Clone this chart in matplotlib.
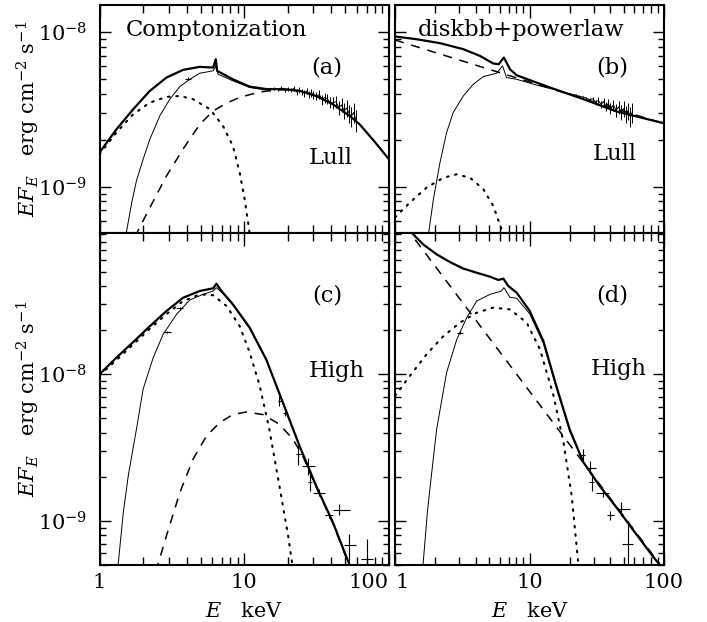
import matplotlib
matplotlib.use('Agg')
from matplotlib import pyplot as plt
import matplotlib.ticker as ticker
import numpy as np

plt.rcParams['font.family'] = 'DejaVu Serif'
plt.rcParams['mathtext.fontset'] = 'dejavuserif'

my_fontsize = 15
title_fontsize = 16.3
SCALE = 1e-9  # all fluxes below in units of 1e-9 erg cm^-2 s^-1

# ---------------- panel (a): Comptonization, Lull ----------------
A_TOT_E = [1.0, 1.31, 1.71, 2.23, 2.9, 3.78, 4.93, 6.1, 6.36, 6.49, 8.35, 10.9, 14.2, 18.5, 24.1, 31.4, 41.0, 53.4, 62.7, 80.0, 100.0]
A_TOT_F = [1.66, 2.35, 3.17, 4.17, 5.08, 5.7, 5.96, 5.9, 6.68, 5.62, 4.95, 4.44, 4.28, 4.28, 4.17, 3.86, 3.41, 2.87, 2.53, 1.94, 1.5]
A_BB_E = [1.0, 1.31, 1.71, 2.23, 2.9, 3.59, 4.43, 5.79, 7.13, 8.35, 9.3, 10.06, 10.8, 11.2]
A_BB_F = [1.62, 2.24, 2.94, 3.5, 3.81, 3.86, 3.68, 3.17, 2.47, 1.83, 1.23, 0.828, 0.528, 0.40]
A_COMP_E = [1.75, 2.23, 2.9, 3.78, 4.93, 6.1, 7.55, 9.3, 12.8, 16.6, 20.0]
A_COMP_F = [0.47, 0.731, 1.17, 1.75, 2.53, 3.09, 3.47, 3.78, 4.1, 4.22, 4.25]
A_DAT_E = [1.5, 1.67, 1.8, 2.0, 2.23, 2.61, 3.06, 3.59, 4.2, 4.93, 6.1, 6.36, 6.6, 8.35, 10.9, 14.2]
A_DAT_F = [0.45, 0.787, 1.09, 1.5, 2.03, 2.87, 3.68, 4.44, 4.95, 5.42, 5.62, 6.05, 5.34, 4.84, 4.38, 4.22]
A_HI_E = [15, 16, 17, 18, 19, 20, 21, 22, 23, 24, 25, 26, 27, 28, 29, 30, 31.5, 33, 34.5, 36, 37.5, 39, 41, 43, 45, 47, 49, 51, 53, 55, 57, 59]
A_HI_F = [4.26, 4.30, 4.25, 4.34, 4.21, 4.28, 4.22, 4.31, 4.10, 4.22, 4.12, 4.02, 4.15, 3.96, 4.05, 3.92,
          3.85, 3.95, 3.66, 3.78, 3.70, 3.52, 3.48, 3.55, 3.25, 3.38, 3.10, 3.22, 2.98, 2.86, 3.02, 2.70]
A_HI_ERR = [0.08, 0.09, 0.10, 0.11, 0.12, 0.13, 0.14, 0.15, 0.16, 0.17, 0.18, 0.19, 0.20, 0.21, 0.22, 0.23,
            0.24, 0.26, 0.27, 0.28, 0.29, 0.30, 0.32, 0.33, 0.35, 0.36, 0.38, 0.39, 0.41, 0.42, 0.44, 0.45]

# ---------------- panel (b): diskbb+powerlaw, Lull ----------------
B_TOT_E = [1.0, 1.45, 2.16, 3.22, 4.28, 5.38, 5.9, 6.45, 7.16, 8.03, 14.2, 25.2, 44.6, 100.0]
B_TOT_F = [9.38, 9.0, 8.49, 7.76, 7.02, 6.27, 6.2, 6.85, 5.75, 5.26, 4.38, 3.68, 3.06, 2.57]
B_PL_E = [1.0, 100.0]
B_PL_F = [8.9, 2.55]
B_DBB_E = [1.0, 1.29, 1.72, 2.29, 2.87, 3.61, 4.54, 5.38, 6.2, 6.5]
B_DBB_F = [0.63, 0.787, 0.986, 1.14, 1.2, 1.14, 0.961, 0.748, 0.528, 0.45]
B_DAT_E = [1.75, 1.93, 2.16, 2.42, 2.71, 3.22, 3.82, 4.54, 5.7, 6.3, 6.76, 8.03, 11.3, 15.9, 19.0]
B_DAT_F = [0.45, 0.828, 1.43, 2.24, 3.02, 3.86, 4.6, 5.16, 5.42, 6.05, 5.08, 4.95, 4.54, 4.22, 4.02]
B_HI_E = [22, 23.5, 25, 26.5, 28, 29.5, 31, 32.5, 34, 35.5, 37, 38.5, 40, 42, 44, 46, 48, 50, 52, 54, 56, 58]
B_HI_F = [3.92, 3.84, 3.80, 3.74, 3.66, 3.70, 3.52, 3.62, 3.40, 3.55, 3.30, 3.45, 3.20, 3.38, 3.12, 3.28,
          3.02, 3.20, 2.95, 3.10, 2.85, 3.02]
B_HI_ERR = [0.06, 0.07, 0.08, 0.09, 0.10, 0.12, 0.14, 0.16, 0.18, 0.20, 0.22, 0.24, 0.26, 0.28, 0.30, 0.32,
            0.34, 0.36, 0.38, 0.40, 0.42, 0.44]

# ---------------- panel (c): Comptonization, High ----------------
C_TOT_E = [1.0, 1.31, 1.71, 2.23, 2.9, 3.78, 4.93, 6.1, 6.43, 6.96, 8.35, 10.9, 14.2, 18.5, 24.1, 31.4, 41.0, 53.4, 56.0]
C_TOT_F = [10.0, 13.0, 16.6, 21.3, 27.0, 33.3, 37.0, 38.6, 41.5, 37.0, 30.0, 20.8, 12.6, 6.41, 3.24, 1.73, 0.975, 0.50, 0.45]
C_BB_E = [1.0, 1.31, 1.71, 2.23, 2.9, 3.78, 4.93, 6.1, 7.55, 9.3, 10.9, 12.8, 14.9, 17.5, 20.1, 21.5, 22.5]
C_BB_F = [9.84, 12.5, 16.0, 20.5, 25.7, 31.6, 35.1, 34.6, 29.2, 21.3, 14.1, 8.32, 4.22, 1.73, 0.791, 0.50, 0.35]
C_COMP_E = [2.45, 2.9, 3.59, 4.43, 5.49, 6.78, 8.35, 10.3, 13.5, 17.5, 21.7, 25.4, 31.4, 41.0, 53.4, 56.0]
C_COMP_F = [0.45, 0.791, 1.56, 2.64, 3.8, 4.69, 5.31, 5.53, 5.31, 4.56, 3.6, 2.77, 1.70, 0.96, 0.49, 0.44]
C_DAT_E = [1.33, 1.46, 1.58, 1.8, 2.0, 2.35, 2.75, 3.41, 4.2, 5.19, 6.1, 6.43, 7.13, 8.35, 10.9, 14.2, 18.5, 22.0]
C_DAT_F = [0.45, 1.14, 2.03, 4.22, 7.9, 13.0, 18.7, 25.7, 32.1, 35.1, 37.0, 39.0, 35.5, 29.7, 20.6, 12.5, 6.35, 4.1]
C_X_E = [2.92, 3.6, 17.5, 19.0, 23.7, 27.5, 28.4, 32.7, 38.4, 45.5, 52.8, 70.0]
C_X_ELO = [2.75, 3.4, 17.0, 18.5, 22.7, 24.9, 27.4, 29.8, 35.9, 41.0, 49.2, 64.0]
C_X_EHI = [3.1, 3.8, 18.0, 19.5, 24.9, 31.0, 29.6, 35.9, 41.0, 53.4, 58.8, 77.0]
C_X_F = [19.4, 28.2, 6.58, 5.48, 2.85, 2.35, 1.85, 1.56, 1.09, 1.19, 0.682, 0.55]
C_X_FLO = [19.0, 27.6, 6.1, 5.2, 2.4, 2.05, 1.6, 1.48, 1.04, 1.1, 0.5, 0.40]
C_X_FHI = [19.8, 28.8, 7.1, 5.8, 3.3, 2.7, 2.1, 1.64, 1.14, 1.3, 0.82, 0.75]

# ---------------- panel (d): diskbb+powerlaw, High ----------------
D_TOT_E = [1.25, 1.33, 1.62, 2.04, 2.56, 3.22, 4.05, 5.09, 5.86, 6.39, 6.96, 8.03, 10.0, 12.7, 15.9, 19.9, 25.1, 33.4, 44.5, 59.3, 85.5, 95.0]
D_TOT_F = [98.0, 92.5, 76.9, 65.8, 58.3, 52.6, 49.3, 46.3, 44.0, 44.9, 40.0, 36.0, 27.2, 16.8, 8.2, 4.2, 2.52, 1.72, 1.23, 0.86, 0.55, 0.49]
D_PL_E = [1.0, 100.0]
D_PL_F = [126.0, 0.465]
D_DBB_E = [1.0, 1.29, 1.72, 2.29, 3.04, 4.05, 5.38, 7.16, 9.53, 11.96, 15.1, 17.9, 20.6, 23.1, 24.0]
D_DBB_F = [7.12, 9.75, 13.7, 18.2, 22.5, 26.3, 28.5, 27.7, 22.5, 14.8, 7.12, 3.42, 1.48, 0.50, 0.38]
D_DAT_E = [1.6, 1.74, 1.84, 2.04, 2.42, 2.88, 3.41, 4.05, 5.09, 6.2, 6.45, 7.16, 8.03, 10.0, 12.7, 15.9, 19.9, 24.0]
D_DAT_F = [0.45, 1.14, 1.83, 4.22, 10.3, 17.3, 24.3, 31.6, 35.1, 37.0, 39.0, 33.5, 33.0, 26.0, 16.2, 8.0, 4.1, 2.75]
D_X_E = [3.05, 25.1, 28.1, 29.0, 35.4, 40.0, 48.3, 54.3]
D_X_ELO = [2.87, 24.3, 26.4, 27.6, 31.4, 37.5, 44.5, 48.6]
D_X_EHI = [3.22, 25.9, 31.2, 30.4, 38.8, 42.8, 55.5, 59.3]
D_X_F = [19.2, 2.8, 2.31, 1.83, 1.54, 1.09, 1.2, 0.693]
D_X_FLO = [18.8, 2.5, 2.1, 1.6, 1.45, 1.02, 1.08, 0.5]
D_X_FHI = [19.6, 3.1, 2.55, 2.05, 1.65, 1.16, 1.34, 1.0]

YLABEL = r'$EF_E$   erg cm$^{-2}$ s$^{-1}$'
XLABEL = r'$E$   keV'

W, H = 707.0, 622.0
fig = plt.figure(figsize=(W / 100, H / 100), dpi=100)


def make_axes(x0, x1, y0, y1):
    # pixel box -> figure fraction
    return fig.add_axes([x0 / W, 1 - y1 / H, (x1 - x0) / W, (y1 - y0) / H])


ax_a = make_axes(99.5, 389, 5, 233)
ax_b = make_axes(395, 664, 5, 233)
ax_c = make_axes(99.5, 389, 233, 565)
ax_d = make_axes(395, 664, 233, 565)


def f(v):
    return np.array(v) * SCALE


def style(ax, top):
    ax.set_xscale('log')
    ax.set_yscale('log')
    ax.set_xlim(1, 100)
    if top:
        ax.set_ylim(5.0e-10, 1.5e-8)
    else:
        ax.set_ylim(5.0e-10, 9.2e-8)
    for sp in ax.spines.values():
        sp.set_linewidth(1.5)
    ax.tick_params(which='both', direction='in', top=True, right=True, width=1.0, labelsize=my_fontsize)
    ax.tick_params(axis='x', which='major', length=9)
    ax.tick_params(axis='x', which='minor', length=6)
    ax.tick_params(axis='y', which='major', length=8)
    ax.tick_params(axis='y', which='minor', length=4)
    ax.tick_params(axis='x', which='major', pad=6)
    ax.tick_params(axis='y', which='major', pad=9)
    ax.xaxis.set_major_locator(ticker.FixedLocator([1, 10, 100]))
    ax.xaxis.set_major_formatter(ticker.FixedFormatter(['1', '10', '100']))
    ax.xaxis.set_minor_locator(ticker.LogLocator(base=10, subs=np.arange(2, 10)))
    ax.xaxis.set_minor_formatter(ticker.NullFormatter())
    ax.yaxis.set_major_locator(ticker.FixedLocator([1e-9, 1e-8]))
    ax.yaxis.set_major_formatter(ticker.FixedFormatter([r'$10^{-9}$', r'$10^{-8}$']))
    ax.yaxis.set_minor_locator(ticker.LogLocator(base=10, subs=np.arange(2, 10)))
    ax.yaxis.set_minor_formatter(ticker.NullFormatter())


def draw(ax, tot, soft, hard, dat):
    ax.plot(soft[0], f(soft[1]), color='black', lw=1.5, linestyle=(0, (0.8, 3.2)), dash_capstyle='round')
    ax.plot(hard[0], f(hard[1]), color='black', lw=1.1, linestyle=(0, (6, 5)))
    ax.plot(dat[0], f(dat[1]), color='black', lw=0.7)
    ax.plot(tot[0], f(tot[1]), color='black', lw=1.6)


def crosses(ax, e, elo, ehi, fl, flo, fhi):
    e = np.array(e)
    fl = f(fl)
    xerr = [e - np.array(elo), np.array(ehi) - e]
    yerr = [fl - f(flo), f(fhi) - fl]
    ax.errorbar(e, fl, xerr=xerr, yerr=yerr, fmt='none', ecolor='black', elinewidth=0.8, capsize=0)


# (a)
style(ax_a, True)
draw(ax_a, (A_TOT_E, A_TOT_F), (A_BB_E, A_BB_F), (A_COMP_E, A_COMP_F), (A_DAT_E + A_HI_E, A_DAT_F + A_HI_F))
ax_a.errorbar(A_HI_E, f(A_HI_F), yerr=f(A_HI_ERR), fmt='none', ecolor='black', elinewidth=0.7, capsize=0)
crosses(ax_a, [4.1], [3.9], [4.3], [5.0], [4.9], [5.1])

# (b)
style(ax_b, True)
draw(ax_b, (B_TOT_E, B_TOT_F), (B_DBB_E, B_DBB_F), (B_PL_E, B_PL_F), (B_DAT_E + B_HI_E, B_DAT_F + B_HI_F))
ax_b.errorbar(B_HI_E, f(B_HI_F), yerr=f(B_HI_ERR), fmt='none', ecolor='black', elinewidth=0.7, capsize=0)

# (c)
style(ax_c, False)
draw(ax_c, (C_TOT_E, C_TOT_F), (C_BB_E, C_BB_F), (C_COMP_E, C_COMP_F), (C_DAT_E, C_DAT_F))
crosses(ax_c, C_X_E, C_X_ELO, C_X_EHI, C_X_F, C_X_FLO, C_X_FHI)

# (d)
style(ax_d, False)
draw(ax_d, (D_TOT_E, D_TOT_F), (D_DBB_E, D_DBB_F), (D_PL_E, D_PL_F), (D_DAT_E, D_DAT_F))
crosses(ax_d, D_X_E, D_X_ELO, D_X_EHI, D_X_F, D_X_FLO, D_X_FHI)

# tick labels only on the outer sides
for ax in (ax_a, ax_b):
    ax.tick_params(axis='x', labelbottom=False)
for ax in (ax_b, ax_d):
    ax.tick_params(axis='y', labelleft=False)
ax_c.get_xticklabels()[2].set_horizontalalignment('right')
ax_d.get_xticklabels()[0].set_horizontalalignment('left')

for ax in (ax_a, ax_c):
    ax.set_ylabel(YLABEL, fontsize=my_fontsize)
    ax.yaxis.set_label_coords(-0.198, 0.5)
for ax in (ax_c, ax_d):
    ax.set_xlabel(XLABEL, fontsize=my_fontsize)
    ax.xaxis.set_label_coords(0.5, -0.11)

# panel annotations
ax_a.text(0.405, 0.89, 'Comptonization', transform=ax_a.transAxes, ha='center', va='center', fontsize=title_fontsize)
ax_b.text(0.468, 0.89, 'diskbb+powerlaw', transform=ax_b.transAxes, ha='center', va='center', fontsize=title_fontsize)
ax_a.text(0.786, 0.726, '(a)', transform=ax_a.transAxes, ha='center', va='center', fontsize=title_fontsize)
ax_a.text(0.80, 0.33, 'Lull', transform=ax_a.transAxes, ha='center', va='center', fontsize=title_fontsize)
ax_b.text(0.807, 0.726, '(b)', transform=ax_b.transAxes, ha='center', va='center', fontsize=title_fontsize)
ax_b.text(0.818, 0.345, 'Lull', transform=ax_b.transAxes, ha='center', va='center', fontsize=title_fontsize)
ax_c.text(0.786, 0.813, '(c)', transform=ax_c.transAxes, ha='center', va='center', fontsize=title_fontsize)
ax_c.text(0.82, 0.585, 'High', transform=ax_c.transAxes, ha='center', va='center', fontsize=title_fontsize)
ax_d.text(0.807, 0.813, '(d)', transform=ax_d.transAxes, ha='center', va='center', fontsize=title_fontsize)
ax_d.text(0.83, 0.59, 'High', transform=ax_d.transAxes, ha='center', va='center', fontsize=title_fontsize)

plt.savefig('out.png', dpi=100)
